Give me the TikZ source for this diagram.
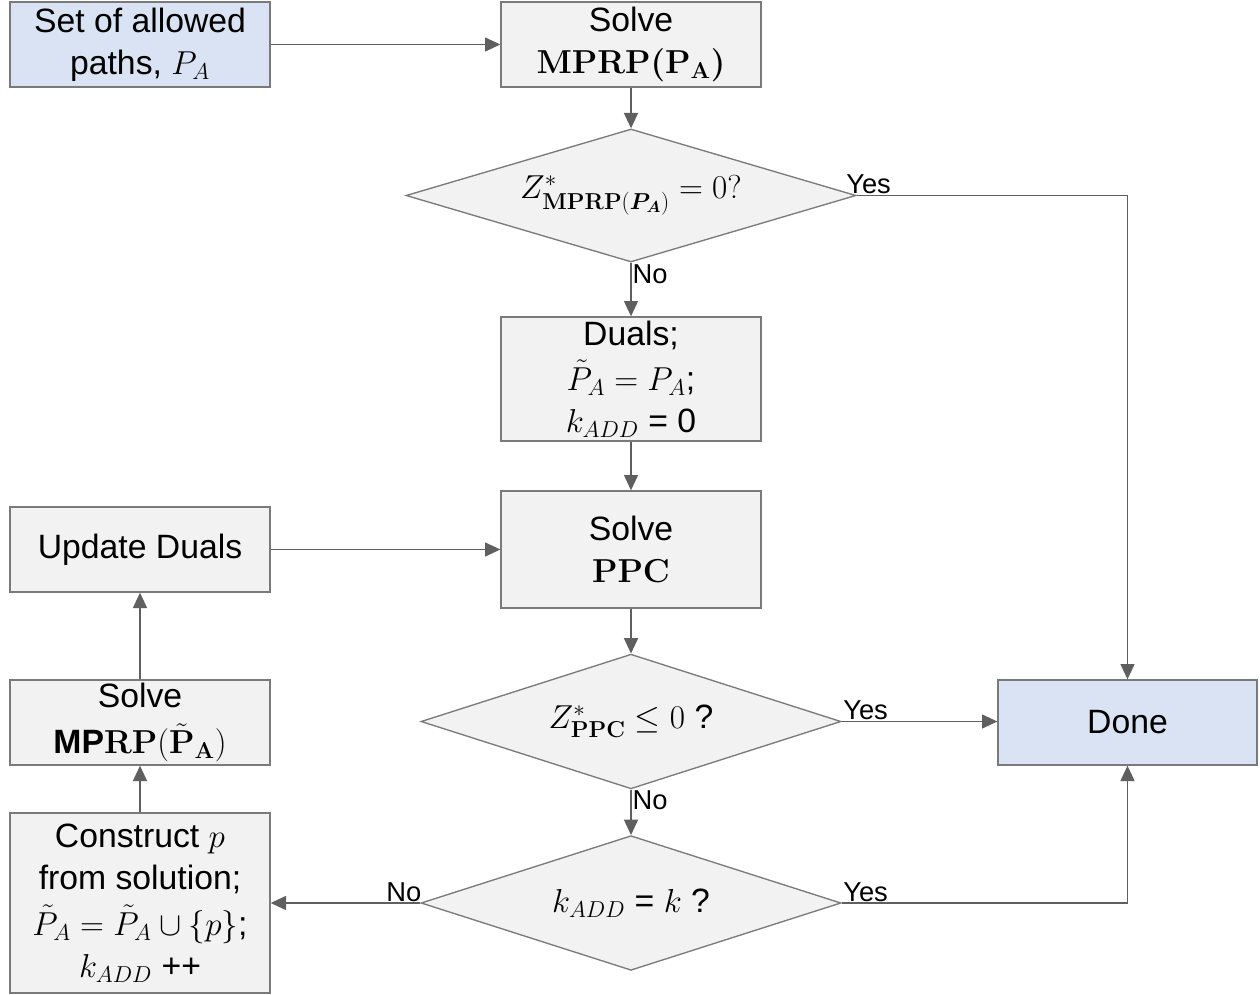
\documentclass[tikz,border=0pt]{standalone}
\usepackage{amsmath,amssymb,bm}
\usepackage[no-math]{fontspec}
\setmainfont{Liberation Sans}
\usetikzlibrary{shapes.geometric,arrows.meta}
\definecolor{boxgray}{HTML}{F2F2F2}
\definecolor{boxblue}{HTML}{DAE3F3}
\definecolor{edgegray}{HTML}{7A7A7A}
\definecolor{wiregray}{HTML}{5F5F5F}
\newcommand\flowtxt{\fontsize{25.3}{31.5}\selectfont}
\newcommand\tagtxt{\fontsize{20.5}{24}\selectfont}
\begin{document}
\begin{tikzpicture}[x=0.75pt,y=-0.75pt,
  procbox/.style={draw=edgegray,line width=1pt,fill=boxgray,minimum width=195pt,
    minimum height=63.75pt,inner sep=0pt,align=center,font=\flowtxt},
  termbox/.style={procbox,fill=boxblue},
  decision/.style={diamond,draw=edgegray,line width=1pt,fill=boxgray,inner sep=0pt,
    minimum width=315pt,minimum height=101pt,aspect=3.1,font=\flowtxt},
  widedecision/.style={decision,minimum width=337.5pt,minimum height=99.75pt,aspect=3.38},
  flow/.style={draw=wiregray,line width=1.1pt,-{Triangle[length=11.5pt,width=10.5pt]}},
  tag/.style={font=\tagtxt,inner sep=1pt}]
\useasboundingbox (0,0) rectangle (1260,995);

% process and terminal boxes
\node[termbox] (setp) at (140,44.5) {Set of allowed\\paths, $P_A$};
\node[procbox] (solve1) at (631,44.5) {Solve\\{\boldmath$\mathbf{MPRP}(\mathbf{P}_{\mathbf{A}})$}};
\node[widedecision] (d1) at (631,195.5) {$Z^*_{\mathbf{MPRP}(\bm{P_A})} = 0?$};
\node[procbox,minimum height=93pt] (duals) at (631,379) {Duals;\\[2pt]$\tilde{P}_A = P_A$;\\$k_{ADD}$ = 0};
\node[procbox,minimum height=87.75pt] (ppc) at (631,549.5) {Solve\\$\mathbf{PPC}$};
\node[decision] (d2) at (631,721.5) {$Z^*_{\mathbf{PPC}} \le 0$ ?};
\node[decision] (d3) at (631,903) {$k_{ADD}$ = $k$ ?};
\node[procbox] (upd) at (140,549.5) {Update Duals};
\node[procbox] (solve2) at (140,722.5) {Solve\\[3pt]\textbf{MP}$\mathbf{RP}(\tilde{\mathbf{P}}_{\mathbf{A}})$};
\node[procbox,minimum height=135pt] (cons) at (140,903) {Construct $p$\\from solution;\\[3pt]$\tilde{P}_A = \tilde{P}_A \cup \{p\}$;\\$k_{ADD}$ ++};
\node[termbox,minimum width=194.25pt] (done) at (1127.5,722.5) {Done};

% connectors
\draw[flow] (setp) -- (solve1);
\draw[flow] (solve1) -- (d1);
\draw[flow] (d1.east) -| (done.north);
\draw[flow] (d1) -- (duals);
\draw[flow] (duals) -- (ppc);
\draw[flow] (upd) -- (ppc);
\draw[flow] (ppc) -- (d2);
\draw[flow] (d2.east) -- (d2.east -| done.west);
\draw[flow] (d2) -- (d3);
\draw[flow] (d3.west) -- (cons.east);
\draw[flow] (d3.east) -| (done.south);
\draw[flow] (cons) -- (solve2);
\draw[flow] (solve2) -- (upd);

% branch labels
\node[tag,anchor=south west,xshift=-9pt] (y1) at (d1.east) {Yes};
\node[tag,anchor=north west] (n1) at (d1.south) {No};
\node[tag,anchor=south west] (y2) at (d2.east) {Yes};
\node[tag,anchor=north west] (n2) at (d2.south) {No};
\node[tag,anchor=south west] (y3) at (d3.east) {Yes};
\node[tag,anchor=south east,xshift=2pt] (n3) at (d3.west) {No};
\end{tikzpicture}
\end{document}
